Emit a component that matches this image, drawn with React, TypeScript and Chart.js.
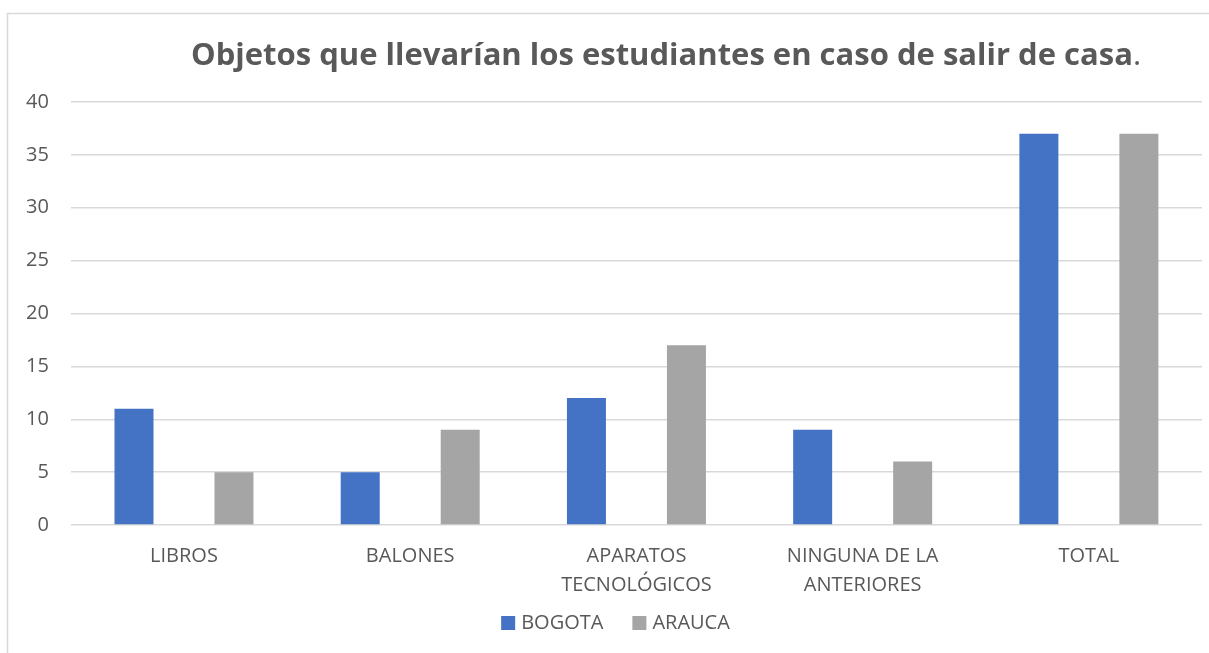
import React, { useEffect, useRef } from "react";
import { Chart, registerables } from "chart.js";

Chart.register(...registerables);

const categories: (string | string[])[] = [
  "LIBROS",
  "BALONES",
  ["APARATOS", "TECNOLÓGICOS"],
  ["NINGUNA DE LA", "ANTERIORES"],
  "TOTAL",
];
const bogota = [11, 5, 12, 9, 37];
const arauca = [5, 9, 17, 6, 37];
const seriesNames = ["BOGOTA", "ARAUCA"];
const seriesColors = ["#4472C4", "#A5A5A5"];
const titleText = "Objetos que llevarían los estudiantes en caso de salir de casa";
const titleEnd = ".";

const FONT = "'Open Sans', sans-serif";
const TEXT = "#595959";

const framePlugin = {
  id: "framePlugin",
  beforeDraw(chart: any) {
    const ctx = chart.ctx;
    ctx.save();
    ctx.fillStyle = "#ffffff";
    ctx.fillRect(0, 0, chart.width, chart.height);
    ctx.strokeStyle = "#d9d9d9";
    ctx.lineWidth = 1.5;
    ctx.strokeRect(7.5, 13.5, chart.width + 20, chart.height + 20);
    ctx.restore();
  },
  afterDraw(chart: any) {
    const ctx = chart.ctx;
    ctx.save();
    ctx.fillStyle = TEXT;
    ctx.textBaseline = "alphabetic";
    // title
    const ts = 31;
    ctx.font = `bold ${ts}px ${FONT}`;
    const w1 = ctx.measureText(titleText).width;
    ctx.font = `${ts}px ${FONT}`;
    const w2 = ctx.measureText(titleEnd).width;
    const cx = 666;
    const x0 = cx - (w1 + w2) / 2;
    ctx.font = `bold ${ts}px ${FONT}`;
    ctx.fillText(titleText, x0, 65);
    ctx.font = `${ts}px ${FONT}`;
    ctx.fillText(titleEnd, x0 + w1, 65);

    // legend
    ctx.font = `20px ${FONT}`;
    ctx.textBaseline = "middle";
    const box = 14;
    const gapBox = 6;
    const gapItem = 29;
    const widths = seriesNames.map((n) => ctx.measureText(n).width);
    const total =
      widths.reduce((a, w) => a + box + gapBox + w, 0) + gapItem * (seriesNames.length - 1);
    let x = 615.5 - total / 2;
    const cy = 623;
    seriesNames.forEach((n, i) => {
      ctx.fillStyle = seriesColors[i];
      ctx.fillRect(x, cy - box / 2, box, box);
      x += box + gapBox;
      ctx.fillStyle = TEXT;
      ctx.fillText(n, x, cy);
      x += widths[i] + gapItem;
    });
    ctx.restore();
  },
};

export default function App() {
  const ref = useRef<HTMLCanvasElement>(null);
  useEffect(() => {
    if (!ref.current) return;
    const chart = new Chart(ref.current, {
      type: "bar",
      data: {
        labels: categories,
        datasets: seriesNames.map((n, i) => ({
          label: n,
          data: i === 0 ? bogota : arauca,
          backgroundColor: seriesColors[i],
          barPercentage: 0.39,
          categoryPercentage: 0.884,
        })),
      },
      options: {
        animation: false,
        responsive: false,
        maintainAspectRatio: false,
        layout: { padding: { left: 4, right: 7, top: 102, bottom: 36 } },
        plugins: {
          title: { display: false },
          tooltip: { enabled: false },
          legend: { display: false },
        },
        scales: {
          x: {
            grid: { display: false, drawTicks: false },
            border: { display: false },
            ticks: {
              color: TEXT,
              font: { family: FONT, size: 20, lineHeight: 1.45 },
              padding: 17,
              maxRotation: 0,
              autoSkip: false,
            },
          },
          y: {
            min: 0,
            max: 40,
            grid: { color: "#d9d9d9", lineWidth: 1.5, drawTicks: false },
            border: { display: false },
            ticks: {
              stepSize: 5,
              color: TEXT,
              font: { family: FONT, size: 20 },
              padding: 22,
            },
          },
        },
      },
      plugins: [framePlugin],
    });
    return () => chart.destroy();
  }, []);
  return (
    <div style={{ position: "fixed", left: 0, top: 0, width: 1209, height: 653, background: "#fff" }}>
      <canvas ref={ref} width={1209} height={653} style={{ display: "block" }} />
    </div>
  );
}
